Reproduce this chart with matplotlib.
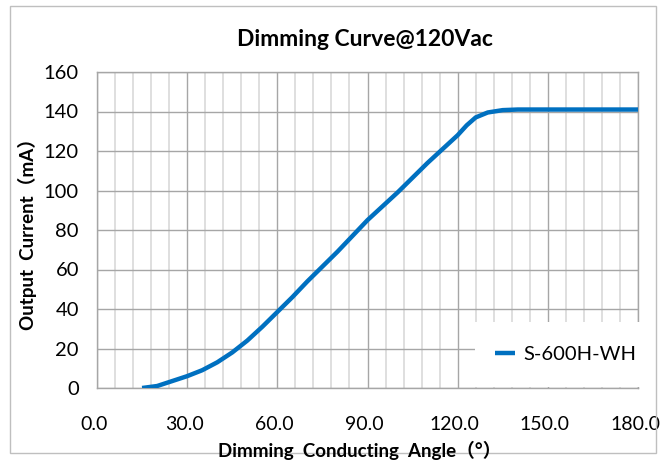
import matplotlib
matplotlib.use("Agg")
import matplotlib.pyplot as plt
from matplotlib.patches import Rectangle
import matplotlib.transforms as mtransforms
import numpy as np

angle = [15, 20, 25, 30, 35, 40, 45, 50, 55, 60, 65, 70, 75, 80, 85, 90, 95, 100,
         105, 110, 115, 120, 123, 126, 130, 135, 140, 150, 160, 170, 180]
current = [0, 1, 3.5, 6, 9, 13, 18, 24, 31, 38.5, 46, 54, 61.5, 69, 77, 85, 92, 99,
           106.5, 114, 121, 128, 133, 137, 139.5, 140.7, 141, 141, 141, 141, 141]
series_name = "S-600H-WH"
title = "Dimming Curve@120Vac"
xlabel = "Dimming  Conducting  Angle（°）"
ylabel = "Output  Current（mA）"
xticks = [0, 30, 60, 90, 120, 150, 180]
yticks = [0, 20, 40, 60, 80, 100, 120, 140, 160]

fam = ["Lato", "Noto Sans CJK SC", "DejaVu Sans"]
plt.rcParams["font.family"] = fam

fig = plt.figure(figsize=(6.61, 4.62), dpi=100)
ax = fig.add_axes([97/661, 1 - 388/462, (638-97)/661, (388-72)/462])

# outer border
fig.patches.append(Rectangle((10/661, 1 - 453/462), 646/661, 447/462, transform=fig.transFigure,
                             fill=False, edgecolor="#bfbfbf", linewidth=1.0))

ax.set_xlim(0, 180)
ax.set_ylim(0, 160)
ax.set_xticks(xticks)
ax.set_xticklabels([f"{v:.1f}" for v in xticks])
ax.set_yticks(yticks)
ax.set_xticks(np.arange(0, 181, 6), minor=True)
ax.tick_params(which="both", length=0)
ax.tick_params(axis="x", pad=20, labelsize=14, colors="#000000")
ax.tick_params(axis="y", pad=13, labelsize=14.5)

shift = mtransforms.ScaledTranslation(-3/100, 0, fig.dpi_scale_trans)
for lbl in ax.get_xticklabels():
    lbl.set_transform(lbl.get_transform() + shift)

ax.grid(True, which="minor", axis="x", color="#d9d9d9", linewidth=1.2, zorder=0)
ax.grid(True, which="major", axis="x", color="#a6a6a6", linewidth=1.0, zorder=0)
ax.grid(True, which="major", axis="y", color="#a6a6a6", linewidth=1.0, zorder=0)
for s in ax.spines.values():
    s.set_color("#a6a6a6")
    s.set_linewidth(1.0)
ax.set_axisbelow(True)

ax.plot(angle, current, color="#0070C0", linewidth=3.2, solid_capstyle="butt", zorder=4,
        label=series_name)

# legend area (white box without border)
ax.add_patch(Rectangle((0.699, 0.004), 0.31, 0.205, transform=ax.transAxes,
                       facecolor="white", edgecolor="none", zorder=3, clip_on=False))
leg = ax.legend(loc="center left", bbox_to_anchor=(0.735, 0.105), frameon=False, fontsize=14.5,
                handlelength=1.0, handletextpad=0.45, borderpad=0, borderaxespad=0)
leg.set_zorder(5)

fig.text(365/661, 1 - 40/462, title, ha="center", va="center", fontsize=16.5, fontweight="bold")
fig.text(360/661, 1 - 450/462, xlabel, ha="center", va="center", fontsize=13.5, fontweight="bold")
fig.text(27/661, 1 - 230/462, ylabel, ha="center", va="center", fontsize=13.5, fontweight="bold",
         rotation=90)

fig.savefig("out.png", dpi=100)
